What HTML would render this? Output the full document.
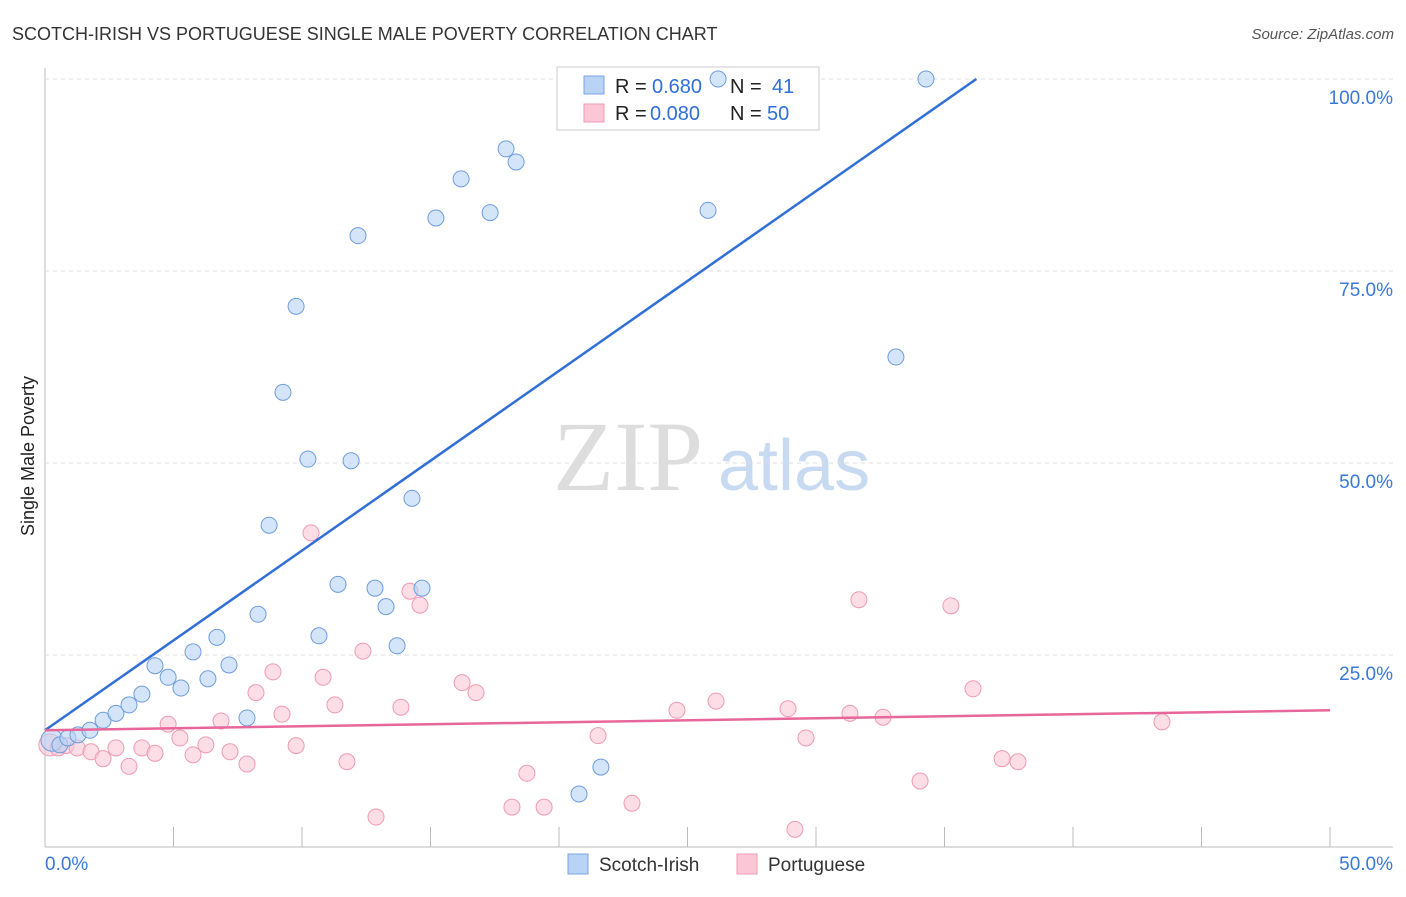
<!DOCTYPE html>
<html><head><meta charset="utf-8"><style>
body{margin:0;background:#fff;font-family:"Liberation Sans",sans-serif;}
svg text{font-family:"Liberation Sans",sans-serif;}
</style></head><body>
<svg id="chart" width="1406" height="892" xmlns="http://www.w3.org/2000/svg">
<text x="12" y="40" font-size="18" fill="#333">SCOTCH-IRISH VS PORTUGUESE SINGLE MALE POVERTY CORRELATION CHART</text>
<text x="1394" y="39" font-size="15" fill="#555" font-style="italic" text-anchor="end">Source: ZipAtlas.com</text>
<text x="0" y="0" font-size="18" fill="#222" transform="translate(34,456) rotate(-90)" text-anchor="middle">Single Male Poverty</text>
<text x="553" y="490" font-size="100" fill="#ddd" style="font-family:'Liberation Serif',serif">ZIP</text>
<text x="718" y="490" font-size="72" fill="#c8daf2">atlas</text>
<g id="grid"></g>
<g>
<rect x="557" y="67" width="262" height="63" fill="#fff" stroke="#ccc"/>
<rect x="584" y="76" width="20" height="18" fill="#b9d3f5" stroke="#7aa6e0"/>
<rect x="584" y="104" width="20" height="18" fill="#fbc6d6" stroke="#f09ab5"/>
<text x="615" y="93" font-size="20" fill="#222">R =</text>
<text x="652" y="93" font-size="20" fill="#2f6fd6">0.680</text>
<text x="730" y="93" font-size="20" fill="#222">N =</text>
<text x="772" y="93" font-size="20" fill="#2f6fd6">41</text>
<text x="615" y="120" font-size="20" fill="#222">R =</text>
<text x="650" y="120" font-size="20" fill="#2f6fd6">0.080</text>
<text x="730" y="120" font-size="20" fill="#222">N =</text>
<text x="767" y="120" font-size="20" fill="#2f6fd6">50</text>
</g>
<g id="pts"></g><g id="lines"></g>
<g>
<rect x="568" y="854" width="20" height="20" fill="#b9d3f5" stroke="#7aa6e0"/>
<text x="599" y="871" font-size="19" fill="#333">Scotch-Irish</text>
<rect x="737" y="854" width="20" height="20" fill="#fbc6d6" stroke="#f09ab5"/>
<text x="768" y="871" font-size="19" fill="#333">Portuguese</text>
</g>
</svg>
<script>
const xTicks=[0,50];
const yTicks=[25,50,75,100];
const blueX=[0.27,0.58,0.89,1.28,1.75,2.26,2.76,3.27,3.77,4.28,4.79,5.29,5.76,6.34,6.69,7.16,7.86,8.29,8.72,9.26,9.77,10.23,10.66,11.40,11.91,12.18,12.84,13.27,13.70,14.28,14.67,15.21,16.19,17.32,17.94,18.33,20.78,21.63,25.80,26.19,33.11,34.28];
const blueY=[13.9,13.3,14.2,14.6,15.2,16.5,17.4,18.5,19.9,23.6,22.1,20.7,25.4,21.9,27.3,23.7,16.8,30.3,41.9,59.2,70.4,50.5,27.5,34.2,50.3,79.6,33.7,31.3,26.2,45.4,33.7,81.9,87.0,82.6,90.9,89.2,6.9,10.4,82.9,100,63.8,100];
const pinkX=[0.19,0.51,0.82,1.25,1.79,2.26,2.76,3.27,3.77,4.28,4.79,5.25,5.76,6.26,6.85,7.20,7.86,8.21,8.87,9.22,9.77,10.35,10.82,11.28,11.75,12.37,12.88,13.85,14.20,14.59,16.23,16.77,18.17,18.75,19.42,21.52,22.84,24.59,26.11,28.91,29.18,29.61,31.32,31.67,32.61,34.05,35.25,36.11,37.24,37.86,43.46];
const pinkY=[13.3,12.9,13.2,12.9,12.4,11.5,12.9,10.5,12.9,12.2,16.0,14.2,12.0,13.3,16.4,12.4,10.8,20.1,22.8,17.3,13.2,40.9,22.1,18.5,11.1,25.5,3.9,18.2,33.3,31.5,21.4,20.1,5.2,9.6,5.2,14.5,5.7,17.8,19.0,18.0,2.3,14.2,17.4,32.2,16.9,8.6,31.4,20.6,11.5,11.1,16.3];
const blueLine=[15.2,2.34];
const pinkLine=[15.2,0.052];
const X=v=>45+v*25.7, Y=v=>847-v*7.68;
const NS="http://www.w3.org/2000/svg";
function mk(t,a,p){const e=document.createElementNS(NS,t);for(const k in a)e.setAttribute(k,a[k]);p.appendChild(e);return e;}
const g=document.getElementById('grid');
mk('line',{x1:45,y1:68,x2:45,y2:847,stroke:'#bbb'},g);
mk('line',{x1:45,y1:847,x2:1393,y2:847,stroke:'#bbb'},g);
for(let i=1;i<=10;i++){const t=mk('line',{x1:X(i*5),y1:827,x2:X(i*5),y2:847,stroke:'#bbb'},g);

}
yTicks.forEach(v=>{const l=mk('line',{x1:45,y1:Y(v),x2:1393,y2:Y(v),stroke:'#ddd','stroke-dasharray':'4,4'},g);


const t=mk('text',{x:1393,y:Y(v)+25,'font-size':19,fill:'#3a78d8','text-anchor':'end'},g);t.textContent=v.toFixed(1)+'%';

});
xTicks.forEach(v=>{const t=mk('text',{x:v===0?45:1393,y:870,'font-size':19,fill:'#3a78d8','text-anchor':v===0?'start':'end'},g);t.textContent=v.toFixed(1)+'%';

});
const p=document.getElementById('pts');
function dots(xs,ys,f,s,name){xs.forEach((x,i)=>{const c=mk('circle',{cx:X(x),cy:Y(ys[i]),r:i===0?11:8,fill:f,'fill-opacity':0.6,stroke:s,'stroke-width':1},p);

});}
dots(pinkX,pinkY,'#fbc6d6','#f09ab5','portuguese-point');
dots(blueX,blueY,'#b9d3f5','#6e9ddc','scotch-irish-point');
const L=document.getElementById('lines');
const xe=(100-blueLine[0])/blueLine[1];
const bl=mk('line',{x1:X(0),y1:Y(blueLine[0]),x2:X(xe),y2:Y(100),stroke:'#2f6fd6','stroke-width':2.5},L);


const pl=mk('line',{x1:X(0),y1:Y(pinkLine[0]),x2:X(50),y2:Y(pinkLine[0]+pinkLine[1]*50),stroke:'#e8679a','stroke-width':2.5},L);


</script>
</body></html>
